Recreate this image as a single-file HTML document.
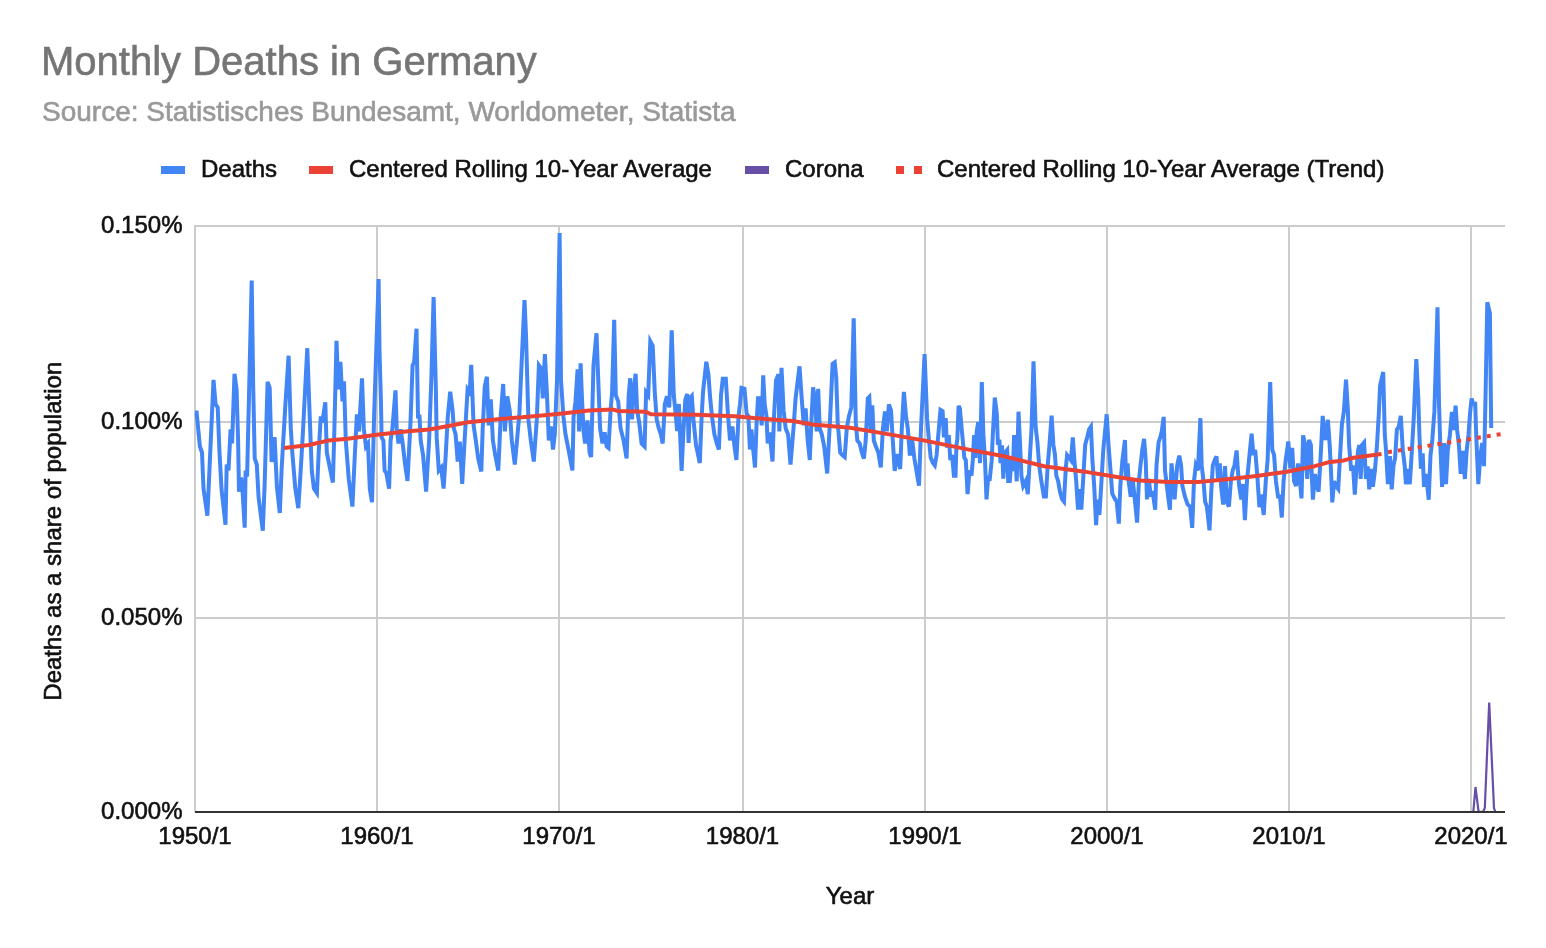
<!DOCTYPE html>
<html><head><meta charset="utf-8"><title>Monthly Deaths in Germany</title>
<style>
html,body{margin:0;padding:0;background:#fff;}
body{width:1546px;height:948px;overflow:hidden;}
svg{display:block;font-family:"Liberation Sans",Arial,sans-serif;will-change:transform;}
</style></head><body>
<svg width="1546" height="948" viewBox="0 0 1546 948">
<rect width="1546" height="948" fill="#fff"/>
<text x="41" y="75" font-size="40" fill="#757575" stroke="#757575" stroke-width="0.6">Monthly Deaths in Germany</text>
<text x="42" y="120.7" font-size="28" fill="#999" stroke="#999" stroke-width="0.6">Source: Statistisches Bundesamt, Worldometer, Statista</text>
<rect x="161" y="166" width="24" height="8" fill="#4285f4"/>
<text x="201" y="177" font-size="24" fill="#111" stroke="#111" stroke-width="0.6">Deaths</text>
<rect x="309" y="166" width="24" height="8" fill="#ea4335"/>
<text x="349" y="177" font-size="24" fill="#111" stroke="#111" stroke-width="0.6">Centered Rolling 10-Year Average</text>
<rect x="745" y="166" width="24" height="8" fill="#674ea7"/>
<text x="785" y="177" font-size="24" fill="#111" stroke="#111" stroke-width="0.6">Corona</text>
<rect x="896" y="166" width="8" height="8" fill="#ea4335"/>
<rect x="914" y="166" width="8" height="8" fill="#ea4335"/>
<text x="937" y="177" font-size="24" fill="#111" stroke="#111" stroke-width="0.6">Centered Rolling 10-Year Average (Trend)</text>
<rect x="194" y="225" width="2" height="587" fill="#ccc"/>
<rect x="376" y="225" width="2" height="587" fill="#ccc"/>
<rect x="558" y="225" width="2" height="587" fill="#ccc"/>
<rect x="742" y="225" width="2" height="587" fill="#ccc"/>
<rect x="924" y="225" width="2" height="587" fill="#ccc"/>
<rect x="1106" y="225" width="2" height="587" fill="#ccc"/>
<rect x="1288" y="225" width="2" height="587" fill="#ccc"/>
<rect x="1470" y="225" width="2" height="587" fill="#ccc"/>
<rect x="194" y="225" width="1311" height="2" fill="#ccc"/>
<rect x="194" y="421" width="1311" height="2" fill="#ccc"/>
<rect x="194" y="617" width="1311" height="2" fill="#ccc"/>
<text x="182.5" y="233" font-size="24" fill="#111" stroke="#111" stroke-width="0.6" text-anchor="end">0.150%</text>
<text x="182.5" y="429" font-size="24" fill="#111" stroke="#111" stroke-width="0.6" text-anchor="end">0.100%</text>
<text x="182.5" y="625" font-size="24" fill="#111" stroke="#111" stroke-width="0.6" text-anchor="end">0.050%</text>
<text x="182.5" y="819" font-size="24" fill="#111" stroke="#111" stroke-width="0.6" text-anchor="end">0.000%</text>
<text x="195" y="844" font-size="24" fill="#111" stroke="#111" stroke-width="0.6" text-anchor="middle">1950/1</text>
<text x="377" y="844" font-size="24" fill="#111" stroke="#111" stroke-width="0.6" text-anchor="middle">1960/1</text>
<text x="559" y="844" font-size="24" fill="#111" stroke="#111" stroke-width="0.6" text-anchor="middle">1970/1</text>
<text x="742.5" y="844" font-size="24" fill="#111" stroke="#111" stroke-width="0.6" text-anchor="middle">1980/1</text>
<text x="925" y="844" font-size="24" fill="#111" stroke="#111" stroke-width="0.6" text-anchor="middle">1990/1</text>
<text x="1107" y="844" font-size="24" fill="#111" stroke="#111" stroke-width="0.6" text-anchor="middle">2000/1</text>
<text x="1289" y="844" font-size="24" fill="#111" stroke="#111" stroke-width="0.6" text-anchor="middle">2010/1</text>
<text x="1471" y="844" font-size="24" fill="#111" stroke="#111" stroke-width="0.6" text-anchor="middle">2020/1</text>
<text x="850" y="904" font-size="24" fill="#111" stroke="#111" stroke-width="0.6" text-anchor="middle">Year</text>
<text transform="translate(61,531.2) rotate(-90)" font-size="24" fill="#111" stroke="#111" stroke-width="0.6" text-anchor="middle">Deaths as a share of population</text>
<polyline points="195.0,412.5 196.6,412.5 199.9,446.5 202.0,452.5 203.5,488.6 207.4,515.6 213.5,379.8 215.6,404.4 217.7,407.4 219.5,452.5 221.6,490.0 225.5,524.7 226.7,464.5 228.5,470.5 230.6,429.4 232.1,443.5 234.5,373.8 236.6,389.3 238.1,440.5 239.0,491.6 241.1,477.5 242.6,491.6 244.7,527.7 245.6,470.5 247.1,476.5 251.7,280.6 253.2,386.3 254.7,458.5 256.8,464.5 258.6,497.6 262.8,530.7 264.6,485.6 267.6,381.8 269.7,387.8 271.6,462.0 274.6,437.0 276.9,486.5 279.8,513.0 281.7,467.5 285.6,401.4 288.6,355.7 290.8,428.4 292.3,452.5 295.3,488.6 298.3,508.1 300.7,470.5 302.8,434.4 307.3,348.2 309.7,416.4 311.8,470.5 313.9,488.6 316.9,493.1 318.7,452.5 320.8,416.4 322.3,422.4 325.3,402.4 326.8,452.5 329.8,467.5 332.9,482.5 334.4,428.4 336.5,340.7 338.3,389.3 340.4,361.8 342.5,401.3 344.0,381.3 345.8,440.5 348.8,479.5 352.4,506.6 354.8,455.5 356.9,414.4 359.0,431.4 362.0,378.3 363.8,428.4 365.9,446.5 368.0,443.5 369.8,488.6 372.0,502.1 374.1,416.4 378.6,279.0 379.5,350.0 381.0,404.4 381.6,437.4 383.4,440.5 384.6,470.5 386.4,473.5 389.1,488.6 390.6,440.5 392.4,428.4 395.5,390.3 396.7,428.4 398.5,443.5 400.6,429.4 402.7,443.5 405.1,464.5 407.5,481.0 410.5,422.4 412.6,365.3 414.1,362.3 416.5,328.7 418.0,416.4 419.5,416.4 420.7,440.5 423.1,455.5 426.1,491.6 429.1,440.5 431.5,374.3 433.6,297.1 435.8,386.3 436.7,437.4 438.8,470.5 441.2,467.5 443.6,488.6 445.7,455.5 447.8,416.4 450.2,391.8 452.6,410.4 453.8,428.4 455.6,434.4 457.7,461.5 459.8,441.5 462.2,484.0 464.6,440.5 467.6,389.3 469.7,392.3 471.2,364.8 473.6,425.4 475.8,440.5 478.2,458.5 481.3,471.5 482.7,428.4 484.8,386.3 486.9,376.8 488.7,425.4 490.8,399.4 492.9,440.5 495.3,455.5 498.3,470.5 500.7,416.4 503.2,384.0 504.9,431.4 507.3,396.3 509.7,410.4 511.8,440.5 514.8,464.5 517.0,440.5 519.4,413.4 521.8,359.2 524.5,300.1 526.0,335.2 528.4,419.4 530.8,440.5 533.8,461.5 536.8,419.4 538.9,365.3 541.0,368.3 542.8,398.3 544.9,354.2 547.0,395.3 548.8,440.4 550.9,426.4 553.0,449.5 554.8,434.4 557.0,380.3 559.6,233.0 561.0,380.3 563.4,416.4 565.5,434.4 568.5,449.5 572.4,470.5 573.6,416.4 575.5,401.4 577.6,369.3 579.1,431.4 580.6,363.3 582.1,401.4 583.6,431.4 585.1,443.5 587.5,420.4 589.6,452.5 591.1,457.0 593.5,365.3 596.5,333.2 598.6,389.3 600.1,428.4 602.5,443.5 604.6,432.4 606.7,446.5 608.5,448.0 610.6,410.4 612.1,392.3 614.2,319.7 615.8,395.3 618.2,401.4 620.6,428.4 623.6,440.5 626.6,458.5 628.7,395.3 630.2,378.3 632.0,419.4 633.8,389.3 635.6,373.8 637.1,410.4 639.2,422.4 641.6,443.5 644.6,446.5 646.1,392.3 648.2,395.3 650.3,341.2 652.7,345.7 654.8,392.3 656.7,419.4 658.8,428.4 660.9,434.4 662.7,443.5 664.8,404.4 666.9,396.3 669.3,407.4 671.7,330.2 673.8,395.3 675.3,410.4 677.2,431.0 678.9,404.0 681.6,471.0 683.5,430.0 685.3,400.0 687.3,394.0 688.6,443.0 690.1,398.0 691.8,396.0 693.5,420.0 696.0,445.0 699.8,463.0 701.5,420.0 703.0,392.3 706.3,361.8 708.4,374.3 710.2,398.3 712.0,416.4 714.4,434.4 716.8,443.5 718.9,449.5 721.0,395.3 722.8,378.8 725.8,378.8 727.9,413.4 730.0,440.4 732.4,426.4 734.5,446.5 736.4,460.0 738.5,416.4 740.0,404.4 741.5,387.8 744.5,388.7 746.6,413.4 748.4,416.4 749.9,449.5 751.4,429.4 753.5,452.5 755.0,467.5 756.5,425.4 758.0,398.3 760.5,398.3 761.7,425.4 763.2,375.3 764.7,404.4 766.5,416.4 767.7,443.5 769.5,432.4 771.0,446.5 772.5,461.5 774.0,416.4 776.1,380.3 778.5,374.3 779.3,431.4 781.5,367.8 783.6,410.4 785.7,428.4 788.1,434.4 790.5,464.5 793.5,428.4 795.6,398.3 799.5,366.3 801.7,398.3 803.8,425.4 805.6,408.4 807.7,440.5 809.8,460.0 811.6,416.4 813.1,387.3 815.2,401.4 816.7,431.4 818.2,388.8 819.7,428.4 821.8,434.4 824.2,446.5 827.2,473.5 830.2,416.4 832.6,363.8 834.7,362.3 836.2,377.3 837.7,422.4 840.2,452.5 842.3,455.0 844.7,457.0 846.8,428.4 848.9,416.4 851.3,407.4 853.7,318.2 855.8,422.4 857.3,440.5 859.7,443.5 861.8,452.5 863.9,458.5 865.7,440.5 867.8,398.3 869.3,396.8 870.8,431.4 872.3,405.4 873.8,440.5 875.9,446.5 878.3,452.5 880.8,467.5 882.9,428.4 885.0,411.4 886.8,431.4 888.9,404.4 891.0,410.4 892.8,440.5 894.7,471.0 897.2,454.0 900.2,469.0 901.8,428.4 903.9,391.8 906.0,416.4 907.8,428.4 909.9,455.5 912.0,438.5 914.4,458.5 917.4,476.5 919.0,485.6 921.0,428.4 924.6,354.0 927.1,418.9 928.9,439.5 930.7,457.6 932.8,462.8 934.8,465.4 936.6,455.0 937.9,439.5 940.5,409.8 942.6,411.1 943.9,437.4 945.7,418.2 947.0,447.7 948.8,435.0 950.3,460.2 952.1,455.0 953.9,475.7 955.5,475.7 956.5,444.7 957.3,439.5 958.6,405.9 959.9,408.5 961.7,429.2 963.2,444.7 964.3,457.6 965.8,460.2 967.6,494.2 969.4,470.5 971.5,475.7 972.8,460.2 974.1,435.0 975.4,458.0 976.7,431.8 978.2,422.0 980.0,463.2 981.8,382.0 983.4,434.4 985.0,460.2 986.5,499.4 988.3,475.7 989.6,480.9 991.7,460.2 992.7,437.0 994.8,397.5 996.8,413.7 997.9,444.7 999.4,439.5 1000.5,463.2 1002.0,445.3 1003.3,478.7 1005.1,452.5 1007.2,449.9 1008.2,480.9 1009.8,480.9 1011.6,458.2 1012.9,471.0 1014.1,435.0 1015.4,455.0 1016.7,481.3 1018.5,411.7 1020.1,444.7 1021.4,475.7 1023.2,486.0 1025.8,480.9 1027.8,494.2 1029.7,460.2 1031.5,429.2 1033.5,361.3 1035.6,426.6 1037.4,442.1 1039.2,465.4 1041.3,480.9 1043.9,496.4 1045.9,496.4 1047.7,465.4 1049.5,444.7 1051.6,415.6 1053.4,444.7 1055.0,455.0 1056.3,475.7 1058.1,480.9 1059.9,491.2 1062.0,499.0 1064.0,501.6 1065.8,468.0 1067.1,455.0 1069.2,457.6 1071.0,460.2 1072.8,437.5 1074.4,460.2 1076.2,480.9 1078.0,509.7 1079.5,489.2 1081.3,509.7 1083.1,480.9 1085.2,444.7 1087.3,437.0 1089.1,429.2 1090.9,426.6 1092.4,460.2 1094.2,486.0 1096.1,525.2 1097.6,499.6 1099.4,514.9 1101.2,486.0 1103.3,449.9 1106.7,414.3 1108.5,444.7 1110.5,470.5 1112.3,493.8 1114.9,499.0 1116.7,501.6 1118.8,523.6 1120.3,486.0 1122.4,460.2 1125.0,440.1 1126.0,478.7 1127.6,463.4 1128.6,480.9 1130.7,496.8 1132.7,478.9 1134.5,496.4 1137.1,522.6 1138.9,480.9 1140.5,465.4 1142.3,449.9 1144.1,438.8 1145.7,460.2 1147.0,499.4 1148.8,478.9 1150.8,496.4 1152.6,491.2 1155.2,509.7 1156.5,465.4 1158.6,442.1 1160.4,437.0 1161.7,431.8 1163.7,416.9 1165.0,470.5 1166.3,480.9 1168.1,496.4 1169.9,509.7 1171.5,463.4 1173.3,480.9 1174.6,499.4 1177.2,465.4 1179.3,455.6 1181.1,465.4 1182.4,486.0 1184.9,496.4 1187.5,504.1 1190.1,506.7 1192.2,527.8 1194.0,480.9 1195.8,465.4 1197.9,470.5 1200.4,418.2 1201.7,465.4 1203.5,480.9 1205.1,501.6 1206.9,506.7 1209.5,530.4 1211.3,491.2 1212.8,465.4 1214.7,460.2 1216.5,456.3 1218.0,478.7 1219.8,463.4 1221.1,486.0 1223.2,504.6 1225.0,466.0 1226.8,501.6 1228.9,506.7 1230.9,480.9 1232.7,470.5 1234.5,465.4 1236.6,450.5 1237.9,470.5 1239.2,486.0 1241.3,499.4 1243.1,484.0 1244.9,520.1 1247.0,480.9 1249.0,460.2 1251.6,433.7 1253.4,455.0 1255.2,449.9 1257.3,475.7 1259.4,507.1 1261.2,494.4 1263.7,514.9 1265.8,480.9 1267.6,460.2 1270.2,382.0 1272.3,449.9 1274.1,455.0 1275.9,480.9 1278.0,496.4 1280.0,496.4 1281.8,517.5 1283.6,480.9 1285.7,460.2 1288.3,441.4 1290.4,468.4 1292.2,447.9 1294.0,480.9 1296.0,486.0 1298.1,463.4 1299.9,480.9 1301.5,498.4 1303.1,435.3 1305.2,445.0 1307.2,479.0 1309.0,439.9 1310.9,445.0 1311.6,470.9 1312.9,499.7 1315.0,474.0 1316.8,486.4 1318.6,491.6 1320.7,455.4 1322.7,415.9 1324.5,434.7 1325.8,439.9 1327.9,419.8 1329.7,445.0 1331.0,470.9 1332.3,502.3 1334.1,481.2 1336.2,486.4 1338.2,489.0 1340.1,455.4 1341.9,424.4 1343.9,411.4 1346.0,379.7 1347.8,408.9 1349.1,445.0 1351.2,470.9 1353.0,465.7 1354.8,494.6 1356.3,470.9 1358.1,450.2 1359.4,445.0 1360.7,479.0 1362.0,445.0 1364.1,442.5 1365.9,479.0 1367.7,466.3 1369.3,489.4 1371.1,468.9 1372.9,486.8 1374.9,470.9 1377.0,445.0 1378.8,414.0 1380.1,385.6 1383.2,372.0 1384.8,434.7 1386.0,450.2 1387.9,484.2 1389.9,456.0 1391.7,489.4 1393.5,465.7 1395.1,458.0 1396.9,429.5 1398.7,427.0 1400.8,415.9 1402.8,450.2 1404.7,465.7 1405.9,484.2 1408.0,468.9 1409.8,484.2 1411.6,455.4 1413.7,419.2 1416.3,359.1 1418.3,398.5 1419.4,434.7 1420.9,468.7 1422.7,453.4 1424.0,486.8 1426.1,474.0 1428.7,499.7 1430.5,455.4 1432.3,439.9 1434.4,411.4 1437.5,307.4 1439.0,403.7 1440.3,445.0 1442.1,486.8 1444.2,443.0 1446.0,484.2 1447.8,450.2 1449.9,434.7 1451.9,412.0 1453.7,430.0 1455.6,405.6 1457.1,429.5 1458.9,445.0 1460.7,473.9 1462.8,450.8 1464.9,479.0 1466.7,450.2 1468.5,434.7 1470.0,414.0 1471.6,398.5 1473.1,403.7 1475.2,403.7 1476.2,434.7 1478.3,484.2 1480.4,455.4 1482.2,443.0 1484.0,466.1 1485.5,398.5 1487.3,302.2 1489.9,313.3 1491.2,428.0" fill="none" stroke="#4285f4" stroke-width="4"/>
<polyline points="284.0,448.0 308.8,445.0 328.0,440.6 347.6,438.7 376.7,434.8 405.8,431.5 429.0,429.5 448.5,426.0 468.0,422.2 502.9,418.7 522.3,417.3 541.7,415.4 560.0,413.7 589.1,410.4 612.4,409.4 618.2,411.0 645.4,411.7 651.2,414.3 695.8,414.8 734.7,416.2 754.0,418.1 792.9,421.0 812.3,424.5 850.0,427.8 879.1,432.6 923.7,440.4 966.4,449.1 1005.2,456.5 1044.1,466.2 1082.9,471.4 1121.7,477.8 1140.0,480.5 1169.1,482.1 1198.2,482.1 1227.3,479.2 1256.4,475.9 1285.5,472.0 1314.7,466.2 1328.2,462.3 1343.8,460.4 1353.5,457.8 1381.5,454.0" fill="none" stroke="#ea4335" stroke-width="4" stroke-linejoin="round"/>
<polyline points="1388.0,452.2 1501.0,434.1" fill="none" stroke="#ea4335" stroke-width="4" stroke-dasharray="4,6"/>
<polyline points="1473.3,812.0 1475.5,787.0 1478.6,812.0 1483.2,811.5 1484.8,808.0 1489.2,702.5 1494.0,808.0 1495.4,812.0" fill="none" stroke="#674ea7" stroke-width="2.2"/>
<rect x="195" y="811" width="1310" height="2" fill="#333"/>
</svg>
</body></html>
